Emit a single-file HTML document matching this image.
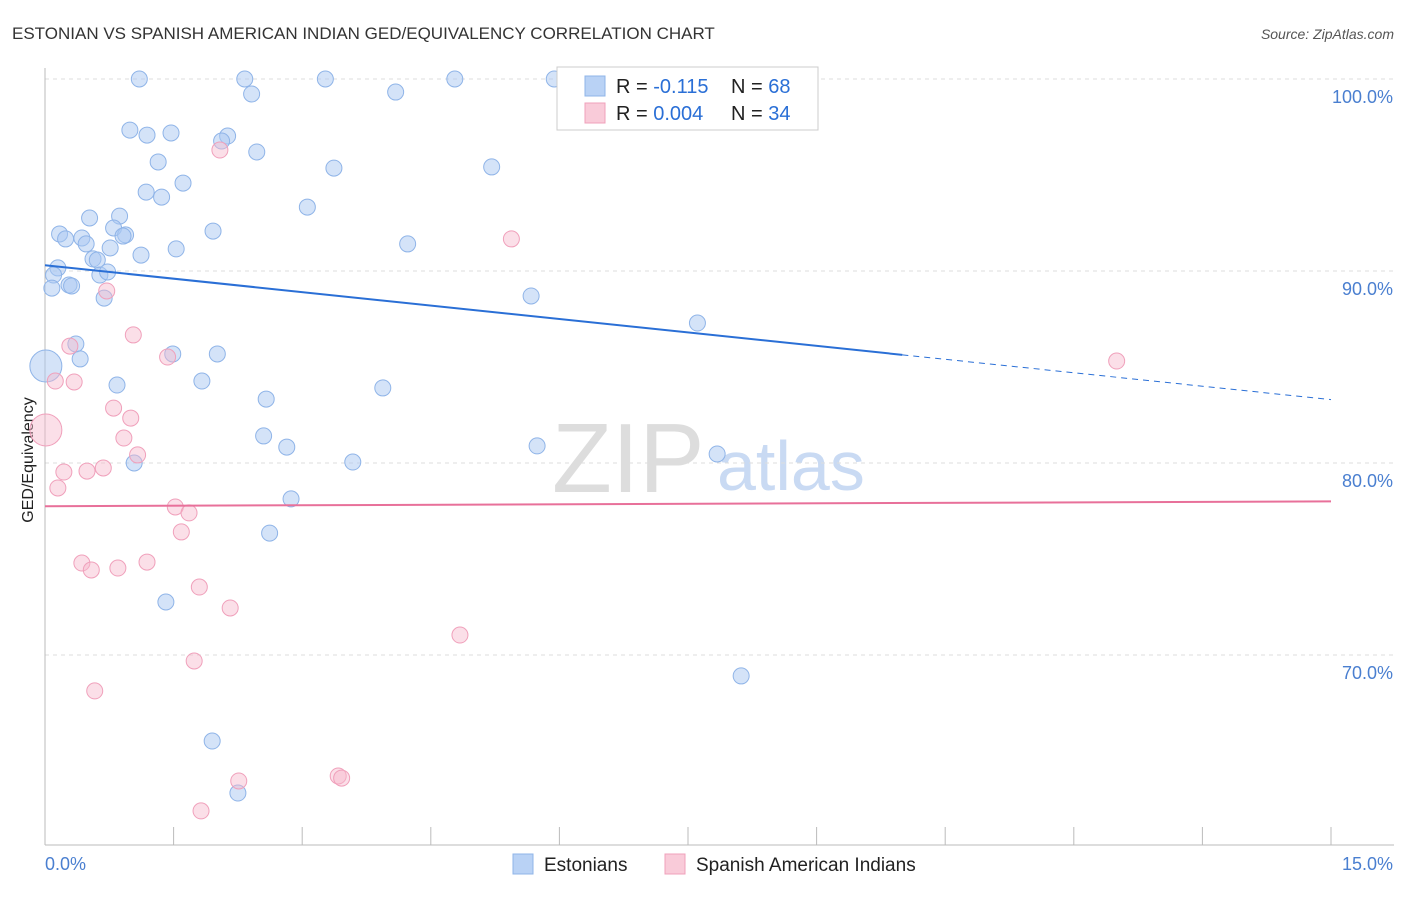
<!DOCTYPE html>
<html><head><meta charset="utf-8"><style>
body{margin:0;background:#fff;font-family:"Liberation Sans",sans-serif;}
svg text{font-family:"Liberation Sans",sans-serif;}
</style></head><body>
<svg id="c" width="1406" height="892">
<text x="12" y="39" font-size="17" fill="#333">ESTONIAN VS SPANISH AMERICAN INDIAN GED/EQUIVALENCY CORRELATION CHART</text>
<text x="1394" y="39" font-size="14" fill="#555" font-style="italic" text-anchor="end">Source: ZipAtlas.com</text>
<g><text x="552" y="492" font-size="98" fill="#ddd" font-family="Liberation Serif">ZIP</text><text x="717" y="490" font-size="70" fill="#c9daf3">atlas</text></g>
<g id="grid"></g>
<line x1="45" y1="68" x2="45" y2="845" stroke="#bbb"/>
<line x1="45" y1="845" x2="1394" y2="845" stroke="#bbb"/>
<text x="33" y="460" font-size="16" fill="#222" text-anchor="middle" transform="rotate(-90 33 460)">GED/Equivalency</text>
<text x="45" y="870" font-size="18" fill="#4a7fd0">0.0%</text>
<text x="1393" y="870" font-size="18" fill="#4a7fd0" text-anchor="end">15.0%</text>
<g id="pts"></g>
<g>
<rect x="557" y="67" width="261" height="63" fill="#fff" stroke="#ccc"/>
<rect x="585" y="76" width="20" height="20" fill="#b9d2f5" stroke="#8fb4e8"/>
<rect x="585" y="103" width="20" height="20" fill="#f9cbd9" stroke="#f0a0bb"/>
<text x="616" y="93" font-size="20" fill="#222">R = <tspan fill="#2a6fd6">-0.115</tspan><tspan x="731">N = </tspan><tspan fill="#2a6fd6">68</tspan></text>
<text x="616" y="120" font-size="20" fill="#222">R = <tspan fill="#2a6fd6">0.004</tspan><tspan x="731">N = </tspan><tspan fill="#2a6fd6">34</tspan></text>
</g>
<g>
<rect x="513" y="854" width="20" height="20" fill="#b9d2f5" stroke="#8fb4e8"/>
<text x="544" y="871" font-size="19" fill="#222">Estonians</text>
<rect x="665" y="854" width="20" height="20" fill="#f9cbd9" stroke="#f0a0bb"/>
<text x="696" y="871" font-size="19" fill="#222">Spanish American Indians</text>
</g>
</svg>
<script>
const yTicks=[100,90,80,70];
const xTickCount=10;
const blueX=[1.10,2.33,3.27,4.78,5.94,2.41,4.09,0.99,1.19,1.47,2.13,2.06,1.32,2.47,3.37,5.21,1.61,1.18,1.36,3.06,0.52,0.87,0.17,0.24,0.43,0.80,0.94,0.91,1.96,0.48,0.76,1.53,1.12,4.23,0.56,0.61,0.15,0.10,0.64,0.73,0.08,0.28,0.31,0.69,5.67,7.61,0.36,0.41,1.49,2.01,0.01,0.84,1.83,3.94,2.58,2.55,2.82,5.74,1.04,3.59,7.84,2.87,2.62,1.41,1.95,8.12,2.25];
const blueY=[100,100,100,100,100,99.22,99.32,97.34,97.08,97.19,97.03,96.77,95.68,96.20,95.36,95.42,94.58,94.11,93.85,93.33,92.76,92.86,91.93,91.67,91.72,92.24,91.88,91.82,92.08,91.41,91.20,91.15,90.83,91.41,90.63,90.57,90.16,89.79,89.79,89.95,89.11,89.27,89.22,88.59,88.70,87.29,86.20,85.42,85.68,85.68,85.05,84.06,84.27,83.91,83.33,81.41,80.83,80.89,80.00,80.05,80.47,78.13,76.35,72.76,65.52,68.91,62.81];
const pinkX=[6.45,2.04,5.44,0.72,1.03,0.29,1.43,0.12,0.34,0.80,1.00,0.92,1.08,0.22,0.49,0.68,0.15,1.52,1.68,1.59,0.43,0.54,0.85,1.19,1.80,2.16,4.84,1.74,0.58,12.50,2.26,3.42,3.46,1.82,0.01];
const pinkY=[98.75,96.30,91.67,88.96,86.67,86.09,85.52,84.27,84.22,82.86,82.34,81.30,80.42,79.53,79.58,79.74,78.70,77.71,77.40,76.41,74.79,74.43,74.53,74.84,73.54,72.45,71.04,69.69,68.13,85.31,63.44,63.70,63.59,61.88,81.72];
const blueTrend=[90.3,83.3];
const pinkTrend=[77.75,78.0];
const sx=v=>45+v*(1286/15);
const sy=v=>79+(100-v)*19.2;
const NS="http://www.w3.org/2000/svg";
const grid=document.getElementById('grid'),pts=document.getElementById('pts');
function mk(tag,attrs,parent){const e=document.createElementNS(NS,tag);for(const k in attrs)e.setAttribute(k,attrs[k]);parent.appendChild(e);return e;}
yTicks.forEach(t=>{
 const l=mk('line',{x1:45,x2:1394,y1:sy(t),y2:sy(t),stroke:'#ddd','stroke-dasharray':'4,4'},grid);
 
 
 const tx=mk('text',{x:1393,y:sy(t)+24,'font-size':18,fill:'#4a7fd0','text-anchor':'end'},grid);
 tx.textContent=t.toFixed(1)+'%';
 
 
});
for(let i=1;i<=xTickCount;i++){
 const x=sx(i*15/xTickCount);
 const l=mk('line',{x1:x,x2:x,y1:827,y2:845,stroke:'#bbb'},grid);
 
 
}
function dot(x,y,fill,stroke,name){
 const big=x<0.05;
 const c=mk('circle',{cx:sx(x),cy:sy(y),r:big?16:8,fill:fill,stroke:stroke,'stroke-width':1},pts);
 
 
}
blueX.forEach((x,i)=>dot(x,blueY[i],'rgba(170,200,242,0.5)','#8fb4e8','estonian-point'));
pinkX.forEach((x,i)=>dot(x,pinkY[i],'rgba(246,184,204,0.45)','#f0a0bb','spanish-american-indian-point'));
const bm=(blueTrend[1]-blueTrend[0])/15, xs=10;
let l1=mk('line',{x1:sx(0),y1:sy(blueTrend[0]),x2:sx(xs),y2:sy(blueTrend[0]+bm*xs),stroke:'#2a6fd6','stroke-width':2},pts);


let l2=mk('line',{x1:sx(xs),y1:sy(blueTrend[0]+bm*xs),x2:sx(15),y2:sy(blueTrend[1]),stroke:'#2a6fd6','stroke-width':1,'stroke-dasharray':'6,5'},pts);


let l3=mk('line',{x1:sx(0),y1:sy(pinkTrend[0]),x2:sx(15),y2:sy(pinkTrend[1]),stroke:'#e8709a','stroke-width':2},pts);


</script>
</body></html>
